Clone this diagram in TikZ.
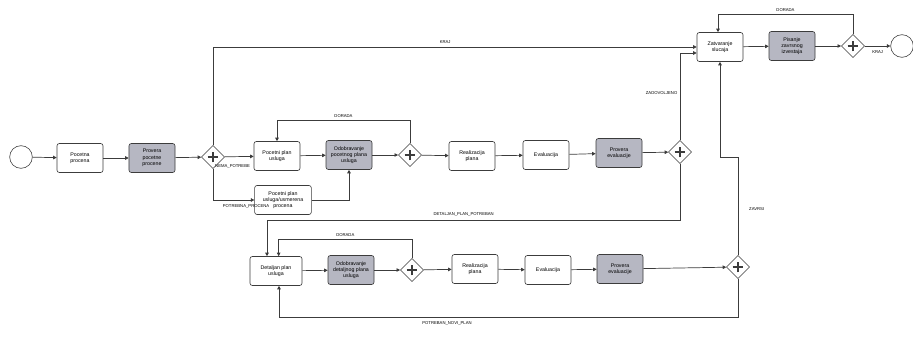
\documentclass[tikz,border=0pt]{standalone}
\usepackage{fontspec}
\setmainfont{Liberation Sans}
\usetikzlibrary{shapes.geometric,arrows.meta}
\definecolor{taskgrey}{RGB}{182,183,194}
\definecolor{linegrey}{RGB}{60,60,60}
\begin{document}
\begin{tikzpicture}[x=0.03cm,y=-0.03cm]
	\tikzstyle{every node}+=[inner sep=0pt]
	\tikzstyle{task}=[draw=linegrey, line width=0.5pt, rounded corners=2pt, fill=white, minimum width=1.38cm, minimum height=0.87cm, align=center, font=\fontsize{4.5}{5.4}\selectfont]
	\tikzstyle{greytask}=[task, fill=taskgrey]
	\tikzstyle{gate}=[diamond, draw=linegrey, line width=0.5pt, fill=white, minimum size=0.7cm,
		path picture={\draw[line width=1.5pt] ([xshift=-0.16cm]path picture bounding box.center) -- ([xshift=0.16cm]path picture bounding box.center);
			\draw[line width=1.5pt] ([yshift=-0.16cm]path picture bounding box.center) -- ([yshift=0.16cm]path picture bounding box.center);}]
	\tikzstyle{event}=[circle, draw=linegrey, line width=0.5pt, minimum size=0.68cm]
	\tikzstyle{flow}=[draw=linegrey, line width=0.6pt, -{Triangle[length=3pt,width=3pt]}]
	\tikzstyle{lbl}=[font=\fontsize{3.6}{4}\selectfont]
	\fill[white] (0,0) rectangle (913,337);
	\useasboundingbox (0,0) rectangle (913,337);
	% first row
	\node [event] (start) at (21,157) {};
	\node [task] (pocProc) at (80,158) {Pocetna\\procena};
	\node [greytask] (provProc) at (152,158) {Provera\\pocetne\\procene};
	\node [gate] (gPoc) at (213,157) {};
	\node [task] (pocPlan) at (277,156) {Pocetni plan\\usluga};
	\node [task, minimum width=1.7cm] (usmPlan) at (283,200) {Pocetni plan\\usluga/usmerena\\procena};
	\node [greytask] (odobPoc) at (349,155) {Odobravanje\\pocetnog plana\\usluga};
	\node [gate] (gOdob) at (410,155) {};
	\node [task] (realPlan) at (472,156) {Realizacija\\plana};
	\node [task] (eval) at (546,155) {Evaluacija};
	\node [greytask] (provEval) at (619,153) {Provera\\evaluacije};
	\node [gate] (gEval) at (680,152) {};
	% second row
	\node [task, minimum width=1.56cm] (detPlan) at (276,271) {Detaljan plan\\usluga};
	\node [greytask] (odobDet) at (351,270) {Odobravanje\\detaljnog plana\\usluga};
	\node [gate] (gDet) at (412,270) {};
	\node [task] (realPlanB) at (475,269) {Realizacija\\plana};
	\node [task] (evalB) at (548,270) {Evaluacija};
	\node [greytask] (provEvalB) at (620,269) {Provera\\evaluacije};
	\node [gate] (gKraj) at (738,267) {};
	% closing
	\node [task] (zatv) at (720,47) {Zatvaranje\\slucaja};
	\node [greytask] (izvest) at (792,46) {Pisanje\\zavrsnog\\izvestaja};
	\node [gate] (gZatv) at (853,46) {};
	\node [event] (end) at (902,46) {};
	\coordinate (detTurn) at (267,220);
	\coordinate (zavTurn) at (720,157);
	\coordinate (noviPlan) at (279,317);
	% flows, first row
	\draw [flow] (start) -- (pocProc);
	\draw [flow] (pocProc) -- (provProc);
	\draw [flow] (provProc) -- (gPoc);
	\draw [flow] (gPoc) -- (pocPlan) node [lbl, pos=0.27, below=6pt] {NEMA\_POTREBE};
	\draw [flow] (gPoc.south) |- (usmPlan.west) node [lbl, pos=0.9, below=4pt] {POTREBNA\_PROCENA};
	\draw [flow] (gPoc.north) |- (zatv.west) node [lbl, pos=0.74, above=3pt] {KRAJ};
	\draw [flow] (pocPlan) -- (odobPoc);
	\draw [flow] (usmPlan.east) -| (odobPoc.south);
	\draw [flow] (odobPoc) -- (gOdob);
	\draw [flow] (gOdob.north) -- ++(0,-23) -| (pocPlan.north) node [lbl, pos=0.25, above=2pt] {DORADA};
	\draw [flow] (gOdob) -- (realPlan);
	\draw [flow] (realPlan) -- (eval);
	\draw [flow] (eval) -- (provEval);
	\draw [flow] (provEval) -- (gEval);
	\draw [flow] (gEval.north) |- ([yshift=-0.18cm]zatv.west) node [lbl, pos=0.27, left=2pt] {ZADOVOLJENO};
	\draw [flow] (gEval.south) |- (detTurn) -- (detTurn |- detPlan.north) node [lbl, pos=0, xshift=5.9cm, above=3pt] {DETALJAN\_PLAN\_POTREBAN};
	% flows, second row
	\draw [flow] (detPlan) -- (odobDet);
	\draw [flow] (odobDet) -- (gDet);
	\draw [flow] (gDet.north) -- ++(0,-19) -| ([xshift=0.08cm]detPlan.north) node [lbl, pos=0.25, above=2pt] {DORADA};
	\draw [flow] (gDet) -- (realPlanB);
	\draw [flow] (realPlanB) -- (evalB);
	\draw [flow] (evalB) -- (provEvalB);
	\draw [flow] (provEvalB) -- (gKraj);
	\draw [flow] (gKraj.north) |- (zavTurn) -- (zatv.south) node [lbl, pos=0, xshift=1.1cm, yshift=-1.55cm] {ZAVRSI};
	\draw [flow] (gKraj.south) |- (noviPlan) -- (noviPlan |- detPlan.south) node [lbl, pos=0, xshift=5.04cm, below=4pt] {POTREBAN\_NOVI\_PLAN};
	% closing flows
	\draw [flow] (zatv) -- (izvest);
	\draw [flow] (izvest) -- (gZatv);
	\draw [flow] (gZatv.north) -- ++(0,-20) -| ([xshift=-0.06cm]zatv.north) node [lbl, pos=0.25, above=2pt] {DORADA};
	\draw [flow] (gZatv) -- (end) node [lbl, midway, below=4pt] {KRAJ};
\end{tikzpicture}
\end{document}
